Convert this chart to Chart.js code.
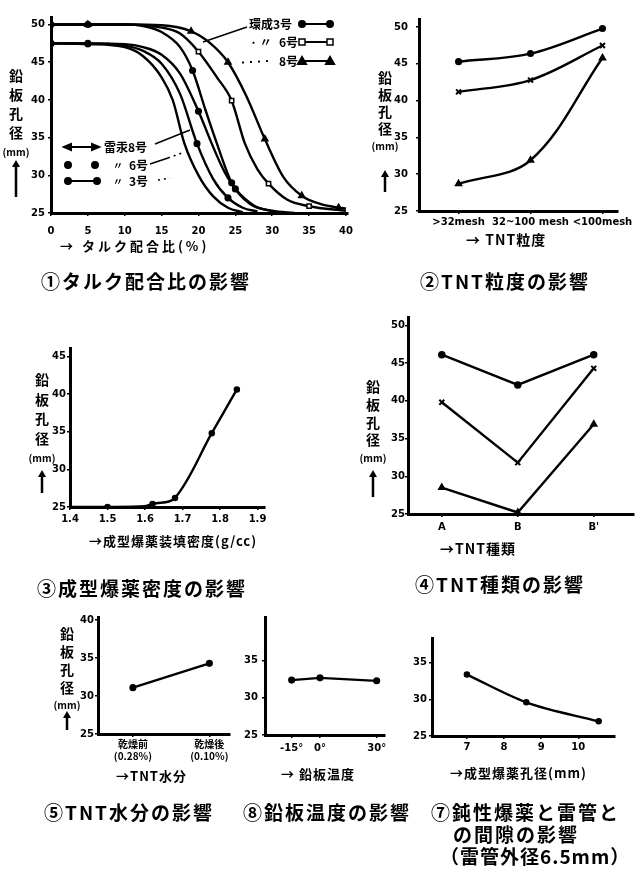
<!DOCTYPE html>
<html lang="ja">
<head>
<meta charset="utf-8">
<title>鉛板孔径への影響</title>
<script src="https://cdn.jsdelivr.net/npm/chart.js@4.4.1/dist/chart.umd.min.js"></script>
<style>
  html, body { margin: 0; padding: 0; background: #fff; }
  body { position: relative; width: 639px; height: 871px; overflow: hidden; color: #000;
         font-family: "Noto Sans CJK JP", "Noto Sans", sans-serif; }
  canvas { position: absolute; }
  .t { position: absolute; white-space: nowrap; font-weight: 700; line-height: 1; transform: translateY(-50%); }
  .cap { font-size: 19px; letter-spacing: 2px; }
  .ttl { font-size: 13px; letter-spacing: 1px; }
  .lg { font-size: 12px; }
  .yt { position: absolute; font-weight: 700; font-size: 14px; text-align: center; width: 34px; }
  .yt span { display: block; }
  #ov { position: absolute; left: 0; top: 0; z-index: 2; }
</style>
</head>
<body>
<svg id="ov" width="639" height="871"></svg>
<script>
// ---- data ----
// ① タルク配合比 (%) vs 鉛板孔径 (mm)
const talcTicks = [0, 5, 10, 15, 20, 25, 30, 35, 40];
const holeTicks = [25, 30, 35, 40, 45, 50];
const kan8X = [0, 5, 10, 15, 19, 21.5, 24, 26.5, 29, 31.5, 34, 36.5, 39, 40];
const kan8Y = [50, 50, 50, 49.9, 49.1, 47.6, 45, 40.5, 34.8, 29.8, 27.3, 26.2, 25.7, 25.6];
const kan6X = [0, 5, 10, 15, 17.5, 20, 22.5, 24.5, 26.3, 28, 29.5, 32, 35, 40];
const kan6Y = [50, 50, 50, 49.6, 48.8, 46.4, 43, 39.9, 34.2, 30.8, 28.9, 26.8, 25.9, 25.3];
const kan3X = [0, 5, 10, 12.5, 15, 17.5, 19.2, 21, 22.5, 24.5, 27, 30, 33];
const kan3Y = [50, 50, 50, 49.8, 49, 47, 43.9, 38.5, 34.2, 29, 26.2, 25.3, 25];
const rai8X = [0, 5, 10, 12.5, 15, 16.5, 18.1, 20, 22, 24, 26];
const rai8Y = [47.5, 47.4, 47, 45.8, 43, 40, 34.2, 30, 27.2, 25.7, 25.1];
const rai6X = [0, 5, 10, 12.5, 15, 17.5, 19.8, 22, 24, 26, 28];
const rai6Y = [47.5, 47.5, 47.2, 46.5, 44.8, 40.8, 34.2, 29.5, 27, 25.7, 25.2];
const rai3X = [0, 5, 10, 12.5, 15, 17.5, 20, 21.8, 23.5, 25, 27.5, 30];
const rai3Y = [47.5, 47.5, 47.4, 47, 46, 43.5, 38.5, 34.2, 30.5, 28.2, 26, 25.2];

// ② TNT粒度
const meshLabels = ['>32mesh', '32~100 mesh', '<100mesh'];
const meshPos = [1, 2, 3];
const meshTop = [45.3, 46.4, 49.8];
const meshMid = [41.2, 42.8, 47.5];
const meshLow = [28.7, 31.9, 45.8];

// ③ 成型爆薬装填密度 (g/cc)
const densTicks = [1.4, 1.5, 1.6, 1.7, 1.8, 1.9];
const densTicksY = [25, 30, 35, 40, 45];
const densX = [1.4, 1.5, 1.6, 1.62, 1.68, 1.778, 1.845];
const densY = [25, 25, 25.1, 25.4, 26.2, 34.8, 40.6];

// ④ TNT種類
const typeLabels = ['A', 'B', "B'"];
const typePos = [1, 2, 3];
const typeTop = [46.1, 42.1, 46.1];
const typeMid = [39.8, 31.8, 44.3];
const typeLow = [28.5, 25.2, 36.9];

// ⑤ TNT水分
const moistLabels = [['乾燥前', '(0.28%)'], ['乾燥後', '(0.10%)']];
const moistPos = [1, 2];
const moistY = [31.1, 34.3];
const moistTicksY = [25, 30, 35, 40];

// ⑧ 鉛板温度
const tempX = [-15, 0, 30];
const tempY = [32.4, 32.7, 32.3];
const tempLabels = ['-15°', '0°', '30°'];
const smallTicksY = [25, 30, 35];

// ⑦ 成型爆薬孔径 (mm)
const gapTicks = [7, 8, 9, 10];
const gapX = [7, 8.6, 10.55];
const gapY = [33.4, 29.6, 27.0];

// ---- helpers ----
Chart.defaults.font.family = '"DejaVu Sans", sans-serif';
const tickFont = { family: '"DejaVu Sans", sans-serif', size: 10, weight: 'bold' };
const cjkTickFont = { family: '"Noto Sans CJK JP", sans-serif', size: 10, weight: 'bold' };
const straight = { tension: 0, cubicInterpolationMode: 'default' };
const smooth = { tension: 0.35, cubicInterpolationMode: 'default' };

function series(xs, ys, style, marks, r, extra) {
  return Object.assign({
    data: xs.map((x, i) => ({ x: x, y: ys[i] })),
    showLine: true,
    borderColor: '#000',
    borderWidth: 2.4,
    cubicInterpolationMode: 'monotone',
    pointStyle: style,
    pointRadius: xs.map((_, i) => marks.includes(i) ? r : 0),
    pointBackgroundColor: style === 'rect' ? '#fff' : '#000',
    pointBorderColor: '#000',
    pointBorderWidth: style === 'crossRot' ? 2 : 1.5
  }, extra || {});
}

function axis(min, max, ticks, cb, font, pad, fit) {
  return {
    type: 'linear', min: min, max: max,
    afterBuildTicks: s => { s.ticks = ticks.map(v => ({ value: v })); },
    afterFit: fit,
    ticks: { callback: cb, font: font, color: '#000', padding: pad, maxRotation: 0, autoSkip: false },
    grid: { display: true, drawOnChartArea: false, drawTicks: true, tickLength: 3, color: '#000', lineWidth: 1.5 },
    border: { display: true, color: '#000', width: 3 }
  };
}

// box = chart area [left, top, right, bottom] on the page
function panel(box, xr, yr, datasets) {
  const YW = 36, XH = xr.h || 24, PT = 10, PR = 10;
  const [l, t, r, b] = box;
  const w = Math.round(r - l + YW + PR), h = Math.round(b - t + PT + XH);
  const cv = document.createElement('canvas');
  cv.width = w; cv.height = h;
  cv.style.cssText = `left:${l - YW}px;top:${t - PT}px;width:${w}px;height:${h}px`;
  document.body.appendChild(cv);
  new Chart(cv, {
    type: 'scatter',
    data: { datasets: datasets },
    options: {
      responsive: false, animation: false,
      layout: { autoPadding: false, padding: { top: PT, right: PR, left: 0, bottom: 0 } },
      plugins: { legend: { display: false }, tooltip: { enabled: false } },
      scales: {
        x: axis(xr.min, xr.max, xr.ticks, xr.cb || (v => v), xr.font || tickFont, xr.pad, s => { s.height = XH; }),
        y: axis(yr.min, yr.max, yr.ticks, v => v, tickFont, yr.pad, s => { s.width = YW; })
      }
    }
  });
}

function text(s, x, y, cls, extra) {
  const d = document.createElement('div');
  d.className = 't ' + cls;
  d.style.left = x + 'px';
  d.style.top = y + 'px';
  if (extra) d.style.cssText += extra;
  d.textContent = s;
  document.body.appendChild(d);
}

const svgParts = [];
function yTitle(cx, y0, step, arrowTop, arrowBottom) {
  const d = document.createElement('div');
  d.className = 'yt';
  d.style.left = (cx - 17) + 'px';
  d.style.top = (y0 - step / 2) + 'px';
  d.style.lineHeight = step + 'px';
  d.innerHTML = '<span>鉛</span><span>板</span><span>孔</span><span>径</span>' +
    '<span style="font-size:10px">(mm)</span>';
  document.body.appendChild(d);
  svgParts.push(`<line x1="${cx}" y1="${arrowBottom}" x2="${cx}" y2="${arrowTop + 5}" stroke="#000" stroke-width="2.5"/>`,
    `<polygon points="${cx - 4},${arrowTop + 7} ${cx + 4},${arrowTop + 7} ${cx},${arrowTop}" fill="#000"/>`);
}

// ---- ① タルク配合比 ----
panel([51, 16.5, 351.7, 212.5],
  { min: 0, max: 40.3, ticks: talcTicks, pad: 9 },
  { min: 25, max: 51, ticks: holeTicks, pad: 3 },
  [
    series(kan8X, kan8Y, 'triangle', [1, 4, 6, 8, 10, 12], 3.5),
    series(kan6X, kan6Y, 'rect', [5, 7, 10, 12], 3),
    series(kan3X, kan3Y, 'circle', [0, 1, 6, 9], 2.8),
    series(rai8X, rai8Y, 'circle', [1], 2.5),
    series(rai6X, rai6Y, 'circle', [1, 6, 8], 2.8),
    series(rai3X, rai3Y, 'circle', [0, 6, 9], 2.8)
  ]);
text('→ タルク配合比(%)', 60, 245, 'ttl', 'letter-spacing:3px');
text('①タルク配合比の影響', 41, 280, 'cap');
yTitle(16, 75, 19, 160, 197);
// legends of ①
text('環成3号', 249, 24, 'lg');
text('· 〃', 250, 42, 'lg');
text('6号', 279, 42, 'lg');
text('8号', 279, 61, 'lg');
text('雷汞8号', 104, 147, 'lg');
text('〃', 113, 165, 'lg', 'font-size:10px');
text('6号', 129, 165, 'lg');
text('〃', 113, 181, 'lg', 'font-size:10px');
text('3号', 129, 181, 'lg');
svgParts.push(
  '<g stroke="#000" stroke-width="2" fill="#000">',
  '<line x1="302" y1="24" x2="330" y2="24"/><circle cx="302" cy="24" r="3"/><circle cx="330" cy="24" r="3"/>',
  '<line x1="302" y1="42" x2="330" y2="42"/>',
  '<rect x="299" y="39" width="6" height="6" fill="#fff" stroke-width="1.5"/><rect x="327" y="39" width="6" height="6" fill="#fff" stroke-width="1.5"/>',
  '<line x1="302" y1="61" x2="330" y2="61"/>',
  '<polygon points="298,64 306,64 302,57"/><polygon points="326,64 334,64 330,57"/>',
  '<line x1="247" y1="27" x2="203" y2="42" stroke-width="1.5"/>',
  '<line x1="268" y1="61" x2="236" y2="63" stroke-width="2" stroke-dasharray="2 6"/>',
  '<line x1="66" y1="147" x2="97" y2="147"/>',
  '<polygon points="64,147 71,144 71,150"/><polygon points="99,147 92,144 92,150"/>',
  '<line x1="155" y1="144" x2="190" y2="130" stroke-width="1.5"/>',
  '<circle cx="68" cy="165" r="3"/><circle cx="95" cy="165" r="3"/>',
  '<line x1="150" y1="164" x2="168" y2="158" stroke-width="1.5"/>',
  '<line x1="168" y1="158" x2="182" y2="153" stroke-width="1.5" stroke-dasharray="2 4"/>',
  '<line x1="68" y1="181" x2="97" y2="181"/><circle cx="68" cy="181" r="3"/><circle cx="97" cy="181" r="3"/>',
  '<line x1="158" y1="180" x2="170" y2="178" stroke-width="1.5" stroke-dasharray="2 4"/>',
  '</g>');

// ---- ② TNT粒度 ----
panel([419, 15.1, 624.6, 210.7],
  { min: 0.45, max: 3.21, ticks: meshPos, cb: (v, i) => meshLabels[i], pad: 2 },
  { min: 25, max: 51.1, ticks: holeTicks, pad: 8 },
  [
    series(meshPos, meshTop, 'circle', [0, 1, 2], 2.8, smooth),
    series(meshPos, meshMid, 'crossRot', [0, 1, 2], 3.5, smooth),
    series(meshPos, meshLow, 'triangle', [0, 1, 2], 3.5, smooth)
  ]);
text('→ TNT粒度', 466, 239, 'ttl', 'font-size:14px');
text('②TNT粒度の影響', 420, 280, 'cap');
yTitle(385, 77, 17, 170, 192);

// ---- ③ 成型爆薬装填密度 ----
panel([70, 348.4, 265, 507],
  { min: 1.4, max: 1.92, ticks: densTicks, cb: v => v.toFixed(1), pad: 3 },
  { min: 25, max: 46.1, ticks: densTicksY, pad: 1 },
  [series(densX, densY, 'circle', [1, 3, 4, 5, 6], 2.5, smooth)]);
text('→成型爆薬装填密度(g/cc)', 89, 540, 'ttl');
text('③成型爆薬密度の影響', 37, 587, 'cap');
yTitle(42, 380, 19.5, 470, 493);

// ---- ④ TNT種類 ----
panel([408, 316.7, 633.5, 513.3],
  { min: 0.555, max: 3.53, ticks: typePos, cb: (v, i) => typeLabels[i], pad: 4 },
  { min: 25, max: 51.1, ticks: holeTicks, pad: 0 },
  [
    series(typePos, typeTop, 'circle', [0, 1, 2], 3, straight),
    series(typePos, typeMid, 'crossRot', [0, 1, 2], 3.5, straight),
    series(typePos, typeLow, 'triangle', [0, 1, 2], 3.5, straight)
  ]);
text('→TNT種類', 440, 548, 'ttl', 'font-size:14px');
text('④TNT種類の影響', 415, 583, 'cap');
yTitle(373, 387, 17.7, 470, 497);

// ---- ⑤ TNT水分 ----
panel([97.7, 617, 230, 733.5],
  { min: 0.543, max: 2.27, ticks: moistPos, cb: (v, i) => moistLabels[i], font: cjkTickFont, pad: 1, h: 36 },
  { min: 25, max: 40.4, ticks: moistTicksY, pad: 1 },
  [series(moistPos, moistY, 'circle', [0, 1], 2.8, straight)]);
text('→TNT水分', 116, 775, 'ttl');
text('⑤TNT水分の影響', 44, 811, 'cap');
yTitle(67, 633, 18, 711, 730);

// ---- ⑧ 鉛板温度 ----
panel([265, 617.3, 385, 735],
  { min: -29.1, max: 34.4, ticks: tempX, cb: (v, i) => tempLabels[i], pad: 4 },
  { min: 25, max: 40.9, ticks: smallTicksY, pad: 4 },
  [series(tempX, tempY, 'circle', [0, 1, 2], 2.8, straight)]);
text('→ 鉛板温度', 281, 773, 'ttl');
text('⑧鉛板温度の影響', 243, 811, 'cap');

// ---- ⑦ 成型爆薬孔径 ----
panel([431.7, 638.3, 615, 736.7],
  { min: 6.06, max: 10.99, ticks: gapTicks, pad: 2 },
  { min: 25, max: 38.4, ticks: smallTicksY, pad: 2 },
  [series(gapX, gapY, 'circle', [0, 1, 2], 2.5)]);
text('→成型爆薬孔径(mm)', 450, 772, 'ttl');
text('⑦鈍性爆薬と雷管と', 431, 811, 'cap');
text('の間隙の影響', 453, 833, 'cap');
text('（雷管外径6.5mm）', 440, 855, 'cap', 'letter-spacing:1px');

document.getElementById('ov').innerHTML = svgParts.join('');
</script>
</body>
</html>
